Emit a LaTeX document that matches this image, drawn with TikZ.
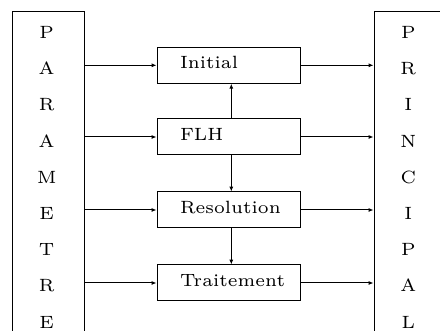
\documentclass[tikz,border=0pt]{standalone}
\usepackage{graphicx}
\usetikzlibrary{arrows.meta}
% small optical size of Latin Modern, enlarged
\newcommand\lbl[1]{\scalebox{1.48}{\fontsize{6}{7}\selectfont #1}}
\begin{document}
\begin{tikzpicture}[x=0.5pt,y=-0.5pt,
  column/.style={draw=black, line width=0.5pt, rectangle, inner sep=0pt, anchor=north west},
  stage/.style={draw=black, line width=0.5pt, rectangle, minimum height=18pt,
    text width=48.5pt, inner xsep=11.5pt, inner ysep=0pt, align=left,
    text height=6.3pt, text depth=2.7pt},
  letter/.style={anchor=base, inner sep=0pt},
  link/.style={line width=0.5pt, -{Latex[length=2.4pt,width=2pt]}}]
\useasboundingbox (0,0) rectangle (440,331);

% side columns (open at the bottom of the page)
\node[column, minimum width=36pt, minimum height=170pt] (param) at (12,11) {};
\node[column, minimum width=45pt, minimum height=170pt] (princ) at (373.5,11) {};

\foreach \c [count=\i] in {P,A,R,A,M,E,T,R,E}
  \node[letter] (pa\i) at (46.7, 38.5+36.2*\i-36.2) {\lbl{\c}};
\foreach \c [count=\i] in {P,R,I,N,C,I,P,A,L}
  \node[letter] (pr\i) at (408.3, 38.5+36.2*\i-36.2) {\lbl{\c}};

% processing stages
\node[stage] (ini) at (228.5,65.3) {\lbl{Initial}};
\node[stage] (flh) at (228.5,137) {\lbl{FLH}};
\node[stage] (res) at (228.5,210) {\lbl{Resolution}};
\node[stage] (tra) at (228.5,283) {\lbl{Traitement}};

\coordinate (vx) at (231.3,0);

\foreach \s in {ini,flh,res,tra} {
  \draw[link] (param.east |- \s.west) -- (\s.west);
  \draw[link] (\s.east) -- (princ.west |- \s.east);
}
\draw[link] (flh.north -| vx) -- (ini.south -| vx);
\draw[link] (flh.south -| vx) -- (res.north -| vx);
\draw[link] (res.south -| vx) -- (tra.north -| vx);
\end{tikzpicture}
\end{document}
